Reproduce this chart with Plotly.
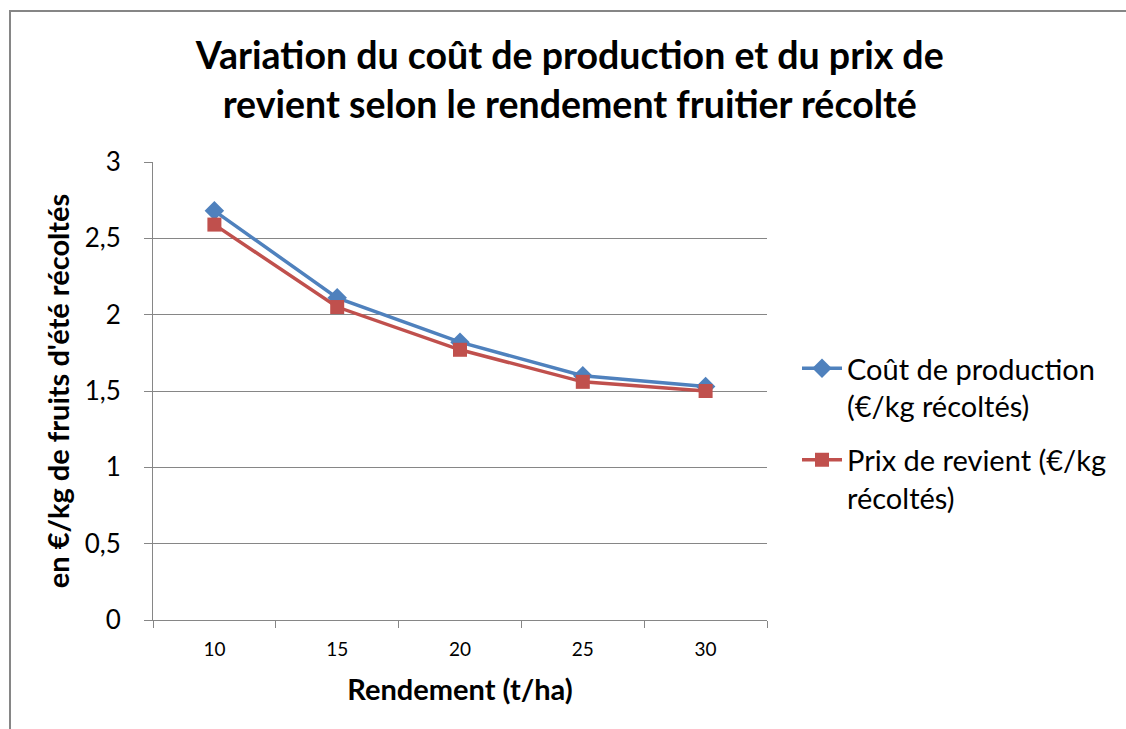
import plotly.graph_objects as go

categories = ["10", "15", "20", "25", "30"]
cout_production = [2.68, 2.11, 1.82, 1.60, 1.53]
prix_revient = [2.59, 2.05, 1.77, 1.56, 1.50]
y_ticks = [0, 0.5, 1, 1.5, 2, 2.5, 3]
y_tick_labels = ["0", "0,5", "1", "1,5", "2", "2,5", "3"]

FONT = "Lato"
L, R, T, B = 153, 359, 162, 109
W, H = 1126, 729
pw, ph = W - L - R, H - T - B

def px_x(p):
    return (p - L) / pw

def px_y(p):
    return (H - B - p) / ph

fig = go.Figure()
fig.add_trace(go.Scatter(
    x=categories, y=cout_production, mode="lines+markers",
    name="Coût de production<br>(€/kg récoltés)", legendgroup="g1",
    line=dict(color="#4F81BD", width=3.5),
    marker=dict(symbol="diamond", size=15, color="#4F81BD"),
))
fig.add_trace(go.Scatter(
    x=categories, y=prix_revient, mode="lines+markers",
    name="Prix de revient (€/kg<br>récoltés)", legendgroup="g2",
    line=dict(color="#C0504D", width=3.5),
    marker=dict(symbol="square", size=14, color="#C0504D"),
))

fig.update_layout(
    width=W, height=H,
    margin=dict(l=L, r=R, t=T, b=B),
    paper_bgcolor="white", plot_bgcolor="white",
    font=dict(family=FONT, color="black"),
    title=dict(
        text="<b>Variation du coût de production et du prix de<br>revient selon le rendement fruitier récolté</b>",
        x=0.506, xanchor="center", y=1 - 69 / H, yanchor="middle",
        font=dict(family=FONT, size=37.5, color="black"),
    ),
    showlegend=True,
    legend=dict(
        x=px_x(797), xanchor="left", y=px_y(343), yanchor="top",
        font=dict(family=FONT, size=29, color="black"),
        traceorder="grouped", tracegroupgap=13, itemwidth=40, valign="top",
        bgcolor="rgba(0,0,0,0)",
    ),
    xaxis=dict(
        type="category", showgrid=False, showline=True, linecolor="#868686", linewidth=1,
        ticks="outside", ticklen=7, tickcolor="#868686", tickson="boundaries",
        ticklabelstandoff=12,
        tickfont=dict(family=FONT, size=19, color="black"),
        title=dict(text="<b>Rendement (t/ha)</b>", font=dict(family=FONT, size=29, color="black"), standoff=20),
        range=[-0.5, 4.5], fixedrange=True,
    ),
    yaxis=dict(
        range=[0, 3], tickvals=y_ticks, ticktext=y_tick_labels,
        showgrid=True, gridcolor="#868686", gridwidth=1,
        showline=True, linecolor="#868686", linewidth=1,
        ticks="outside", ticklen=8, tickcolor="#868686",
        ticklabelstandoff=18,
        tickfont=dict(family=FONT, size=26, color="black"),
        title=dict(text="<b>en €/kg de fruits d'été récoltés</b>", font=dict(family=FONT, size=29, color="black"), standoff=6),
        zeroline=False, fixedrange=True,
    ),
    shapes=[dict(
        type="rect", xref="paper", yref="paper",
        x0=px_x(10), x1=px_x(1140), y0=px_y(11), y1=px_y(740),
        line=dict(color="#868686", width=2), fillcolor="rgba(0,0,0,0)", layer="below",
    )],
)

fig.write_html(
    "out.html",
    config={"displayModeBar": False},
    post_script="document.body.style.margin='0';document.body.style.overflow='hidden';",
)
